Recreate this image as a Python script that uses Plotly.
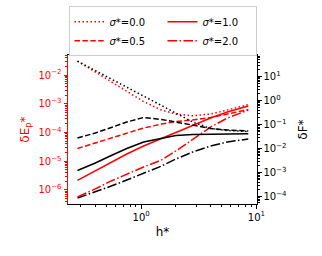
import plotly.graph_objects as go

h = [0.28, 0.4, 0.55, 0.75, 1.05, 1.5, 2.0, 2.8, 4.0, 5.6, 8.5]

# log10 values
dEp_s00 = [-1.513, -1.896, -2.243, -2.574, -2.922, -3.217, -3.357, -3.416, -3.357, -3.217, -3.026]
dEp_s05 = [-4.557, -4.365, -4.191, -4.017, -3.843, -3.704, -3.617, -3.565, -3.478, -3.357, -3.200]
dEp_s10 = [-5.670, -5.339, -5.026, -4.748, -4.470, -4.209, -3.983, -3.739, -3.496, -3.287, -3.078]
dEp_s20 = [-6.243, -5.965, -5.687, -5.443, -5.200, -4.957, -4.643, -4.243, -3.809, -3.496, -3.217]

dF_s00 = [1.642, 1.254, 0.904, 0.571, 0.196, -0.179, -0.513, -0.888, -1.158, -1.242, -1.283]
dF_s05 = [-1.554, -1.346, -1.117, -0.888, -0.700, -0.783, -0.888, -1.013, -1.158, -1.221, -1.263]
dF_s10 = [-2.908, -2.596, -2.283, -1.992, -1.721, -1.554, -1.450, -1.408, -1.396, -1.388, -1.375]
dF_s20 = [-4.054, -3.804, -3.554, -3.304, -3.013, -2.721, -2.429, -2.138, -1.888, -1.721, -1.596]

sigma_labels = ["<i>σ</i>*=0.0", "<i>σ</i>*=0.5", "<i>σ</i>*=1.0", "<i>σ</i>*=2.0"]
dashes = ["1.5px,2.5px", "5.5px,2.4px", "solid", "9.6px,2.4px,1.5px,2.4px"]
ranks = [1, 3, 2, 4]

x_tickvals = [1, 10]
x_ticktext = ["10<sup>0</sup>", "10<sup>1</sup>"]
yl_exps = [-6, -5, -4, -3, -2]
yr_exps = [-4, -3, -2, -1, 0, 1]

def p10(v):
    return [10 ** a for a in v]

def sup(e):
    return "10<sup>" + ("−" + str(-e) if e < 0 else str(e)) + "</sup>"

def minors(lo, hi):
    out = []
    for e in range(lo, hi + 1):
        for m in range(2, 10):
            out.append(m * 10 ** e)
    return out

fig = go.Figure()
red_series = [dEp_s00, dEp_s05, dEp_s10, dEp_s20]
black_series = [dF_s00, dF_s05, dF_s10, dF_s20]
for i in range(4):
    fig.add_trace(go.Scatter(x=h, y=p10(black_series[i]), mode="lines", yaxis="y2",
                             line=dict(color="black", width=1.5, dash=dashes[i]),
                             showlegend=False))
for i in range(4):
    fig.add_trace(go.Scatter(x=h, y=p10(red_series[i]), mode="lines", yaxis="y",
                             name=sigma_labels[i], legendrank=ranks[i],
                             line=dict(color="red", width=1.5, dash=dashes[i])))

tickfont = dict(family="DejaVu Sans", size=10)
fig.update_layout(
    width=322, height=256,
    margin=dict(l=68, r=65, t=55, b=52, autoexpand=False),
    paper_bgcolor="white", plot_bgcolor="white",
    font=dict(family="DejaVu Sans", size=10, color="black"),
    showlegend=True,
    legend=dict(orientation="h", x=0.5, xanchor="center", y=1.16, yanchor="middle",
                bordercolor="#cccccc", borderwidth=1, entrywidth=48,
                font=dict(size=10), tracegroupgap=0, traceorder="normal"),
    xaxis=dict(type="log", range=[-0.635, 1.005], showgrid=False, zeroline=False,
               showline=True, linecolor="black", linewidth=1, mirror=True,
               ticks="outside", ticklen=3.5, tickcolor="black",
               tickvals=x_tickvals, ticktext=x_ticktext, tickfont=tickfont,
               minor=dict(ticks="outside", ticklen=2, tickcolor="black", tickvals=minors(-1, 0)),
               title=dict(text="h*", font=dict(size=12), standoff=6)),
    yaxis=dict(type="log", range=[-6.49, -1.30], showgrid=False, zeroline=False,
               showline=True, linecolor="red", linewidth=1,
               ticks="outside", ticklen=3.5, tickcolor="red",
               tickvals=[10 ** e for e in yl_exps], ticktext=[sup(e) for e in yl_exps],
               tickfont=dict(family="DejaVu Sans", size=10, color="red"),
               minor=dict(ticks="outside", ticklen=2, tickcolor="red", tickvals=minors(-7, -2)),
               title=dict(text="δE<sub>p</sub>*", font=dict(size=12, color="red"), standoff=6)),
    yaxis2=dict(type="log", range=[-4.30, 1.90], overlaying="y", side="right",
                showgrid=False, zeroline=False, showline=True, linecolor="black", linewidth=1,
                ticks="outside", ticklen=3.5, tickcolor="black",
                tickvals=[10 ** e for e in yr_exps], ticktext=[sup(e) for e in yr_exps],
                tickfont=tickfont,
                minor=dict(ticks="outside", ticklen=2, tickcolor="black", tickvals=minors(-5, 1)),
                title=dict(text="δF*", font=dict(size=12), standoff=12)),
)
fig.write_html("out.html", config={"displayModeBar": False},
               post_script="document.body.style.margin='0';document.body.style.padding='0';")
